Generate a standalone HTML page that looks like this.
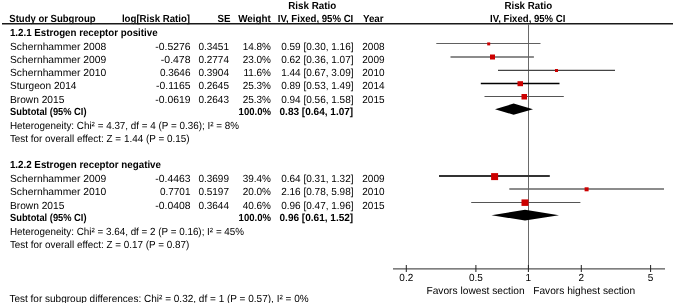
<!DOCTYPE html>
<html><head><meta charset="utf-8"><style>
html,body{margin:0;padding:0;background:#fff;width:675px;height:303px;overflow:hidden}
svg{display:block;font-family:"Liberation Sans",sans-serif;fill:#000;text-rendering:geometricPrecision;will-change:transform}
</style></head><body>
<svg width="675" height="303" viewBox="0 0 675 303">
<text x="288.30" y="9" font-size="10.3" font-weight="bold" textLength="47.90" lengthAdjust="spacingAndGlyphs">Risk Ratio</text>
<text x="504.40" y="9" font-size="10.3" font-weight="bold" textLength="47.70" lengthAdjust="spacingAndGlyphs">Risk Ratio</text>
<text x="9.30" y="22" font-size="10.3" font-weight="bold" textLength="86.30" lengthAdjust="spacingAndGlyphs">Study or Subgroup</text>
<text x="121.90" y="22" font-size="10.3" font-weight="bold" textLength="68.20" lengthAdjust="spacingAndGlyphs">log[Risk Ratio]</text>
<text x="217.40" y="22" font-size="10.3" font-weight="bold" textLength="13.00" lengthAdjust="spacingAndGlyphs">SE</text>
<text x="238.20" y="22" font-size="10.3" font-weight="bold" textLength="32.70" lengthAdjust="spacingAndGlyphs">Weight</text>
<text x="277.80" y="22" font-size="10.3" font-weight="bold" textLength="75.50" lengthAdjust="spacingAndGlyphs">IV, Fixed, 95% CI</text>
<text x="362.90" y="22" font-size="10.3" font-weight="bold" textLength="20.70" lengthAdjust="spacingAndGlyphs">Year</text>
<text x="490.10" y="22" font-size="10.3" font-weight="bold" textLength="75.30" lengthAdjust="spacingAndGlyphs">IV, Fixed, 95% CI</text>
<line x1="2" y1="23.8" x2="673" y2="23.8" stroke="#1a1a1a" stroke-width="1.5"/>
<text x="9.90" y="36" font-size="10.3" font-weight="bold" textLength="147.70" lengthAdjust="spacingAndGlyphs">1.2.1 Estrogen receptor positive</text>
<text x="10.00" y="50" font-size="10.3" textLength="96.20" lengthAdjust="spacingAndGlyphs">Schernhammer 2008</text>
<text x="155.28" y="50" font-size="10.3" textLength="35.22" lengthAdjust="spacingAndGlyphs">-0.5276</text>
<text x="198.41" y="50" font-size="10.3" textLength="30.59" lengthAdjust="spacingAndGlyphs">0.3451</text>
<text x="242.65" y="50" font-size="10.3" textLength="28.35" lengthAdjust="spacingAndGlyphs">14.8%</text>
<text x="281.22" y="50" font-size="10.3" textLength="72.28" lengthAdjust="spacingAndGlyphs">0.59 [0.30, 1.16]</text>
<text x="362.30" y="50" font-size="10.3" textLength="22.25" lengthAdjust="spacingAndGlyphs">2008</text>
<text x="10.00" y="63" font-size="10.3" textLength="96.20" lengthAdjust="spacingAndGlyphs">Schernhammer 2009</text>
<text x="160.85" y="63" font-size="10.3" textLength="29.65" lengthAdjust="spacingAndGlyphs">-0.478</text>
<text x="198.41" y="63" font-size="10.3" textLength="30.59" lengthAdjust="spacingAndGlyphs">0.2774</text>
<text x="242.65" y="63" font-size="10.3" textLength="28.35" lengthAdjust="spacingAndGlyphs">23.0%</text>
<text x="281.22" y="63" font-size="10.3" textLength="72.28" lengthAdjust="spacingAndGlyphs">0.62 [0.36, 1.07]</text>
<text x="362.30" y="63" font-size="10.3" textLength="22.25" lengthAdjust="spacingAndGlyphs">2009</text>
<text x="10.00" y="76.3" font-size="10.3" textLength="96.20" lengthAdjust="spacingAndGlyphs">Schernhammer 2010</text>
<text x="159.91" y="76.3" font-size="10.3" textLength="30.59" lengthAdjust="spacingAndGlyphs">0.3646</text>
<text x="198.41" y="76.3" font-size="10.3" textLength="30.59" lengthAdjust="spacingAndGlyphs">0.3904</text>
<text x="243.39" y="76.3" font-size="10.3" textLength="27.61" lengthAdjust="spacingAndGlyphs">11.6%</text>
<text x="281.22" y="76.3" font-size="10.3" textLength="72.28" lengthAdjust="spacingAndGlyphs">1.44 [0.67, 3.09]</text>
<text x="362.30" y="76.3" font-size="10.3" textLength="22.25" lengthAdjust="spacingAndGlyphs">2010</text>
<text x="10.00" y="89.2" font-size="10.3" textLength="66.40" lengthAdjust="spacingAndGlyphs">Sturgeon 2014</text>
<text x="156.03" y="89.2" font-size="10.3" textLength="34.47" lengthAdjust="spacingAndGlyphs">-0.1165</text>
<text x="198.41" y="89.2" font-size="10.3" textLength="30.59" lengthAdjust="spacingAndGlyphs">0.2645</text>
<text x="242.65" y="89.2" font-size="10.3" textLength="28.35" lengthAdjust="spacingAndGlyphs">25.3%</text>
<text x="281.22" y="89.2" font-size="10.3" textLength="72.28" lengthAdjust="spacingAndGlyphs">0.89 [0.53, 1.49]</text>
<text x="362.30" y="89.2" font-size="10.3" textLength="22.25" lengthAdjust="spacingAndGlyphs">2014</text>
<text x="10.00" y="102.6" font-size="10.3" textLength="54.30" lengthAdjust="spacingAndGlyphs">Brown 2015</text>
<text x="155.28" y="102.6" font-size="10.3" textLength="35.22" lengthAdjust="spacingAndGlyphs">-0.0619</text>
<text x="198.41" y="102.6" font-size="10.3" textLength="30.59" lengthAdjust="spacingAndGlyphs">0.2643</text>
<text x="242.65" y="102.6" font-size="10.3" textLength="28.35" lengthAdjust="spacingAndGlyphs">25.3%</text>
<text x="281.22" y="102.6" font-size="10.3" textLength="72.28" lengthAdjust="spacingAndGlyphs">0.94 [0.56, 1.58]</text>
<text x="362.30" y="102.6" font-size="10.3" textLength="22.25" lengthAdjust="spacingAndGlyphs">2015</text>
<text x="10.00" y="115.1" font-size="10.3" font-weight="bold" textLength="76.50" lengthAdjust="spacingAndGlyphs">Subtotal (95% CI)</text>
<text x="238.60" y="115.1" font-size="10.3" font-weight="bold" textLength="32.40" lengthAdjust="spacingAndGlyphs">100.0%</text>
<text x="279.50" y="115.1" font-size="10.3" font-weight="bold" textLength="73.70" lengthAdjust="spacingAndGlyphs">0.83 [0.64, 1.07]</text>
<text x="9.90" y="128.6" font-size="10.3" textLength="229.10" lengthAdjust="spacingAndGlyphs">Heterogeneity: Chi² = 4.37, df = 4 (P = 0.36); I² = 8%</text>
<text x="9.90" y="142" font-size="10.3" textLength="179.60" lengthAdjust="spacingAndGlyphs">Test for overall effect: Z = 1.44 (P = 0.15)</text>
<text x="9.90" y="168" font-size="10.3" font-weight="bold" textLength="151.10" lengthAdjust="spacingAndGlyphs">1.2.2 Estrogen receptor negative</text>
<text x="10.00" y="182" font-size="10.3" textLength="96.20" lengthAdjust="spacingAndGlyphs">Schernhammer 2009</text>
<text x="155.28" y="182" font-size="10.3" textLength="35.22" lengthAdjust="spacingAndGlyphs">-0.4463</text>
<text x="198.41" y="182" font-size="10.3" textLength="30.59" lengthAdjust="spacingAndGlyphs">0.3699</text>
<text x="242.65" y="182" font-size="10.3" textLength="28.35" lengthAdjust="spacingAndGlyphs">39.4%</text>
<text x="281.22" y="182" font-size="10.3" textLength="72.28" lengthAdjust="spacingAndGlyphs">0.64 [0.31, 1.32]</text>
<text x="362.30" y="182" font-size="10.3" textLength="22.25" lengthAdjust="spacingAndGlyphs">2009</text>
<text x="10.00" y="195.3" font-size="10.3" textLength="96.20" lengthAdjust="spacingAndGlyphs">Schernhammer 2010</text>
<text x="159.91" y="195.3" font-size="10.3" textLength="30.59" lengthAdjust="spacingAndGlyphs">0.7701</text>
<text x="198.41" y="195.3" font-size="10.3" textLength="30.59" lengthAdjust="spacingAndGlyphs">0.5197</text>
<text x="242.65" y="195.3" font-size="10.3" textLength="28.35" lengthAdjust="spacingAndGlyphs">20.0%</text>
<text x="281.22" y="195.3" font-size="10.3" textLength="72.28" lengthAdjust="spacingAndGlyphs">2.16 [0.78, 5.98]</text>
<text x="362.30" y="195.3" font-size="10.3" textLength="22.25" lengthAdjust="spacingAndGlyphs">2010</text>
<text x="10.00" y="208.6" font-size="10.3" textLength="54.30" lengthAdjust="spacingAndGlyphs">Brown 2015</text>
<text x="155.28" y="208.6" font-size="10.3" textLength="35.22" lengthAdjust="spacingAndGlyphs">-0.0408</text>
<text x="198.41" y="208.6" font-size="10.3" textLength="30.59" lengthAdjust="spacingAndGlyphs">0.3644</text>
<text x="242.65" y="208.6" font-size="10.3" textLength="28.35" lengthAdjust="spacingAndGlyphs">40.6%</text>
<text x="281.22" y="208.6" font-size="10.3" textLength="72.28" lengthAdjust="spacingAndGlyphs">0.96 [0.47, 1.96]</text>
<text x="362.30" y="208.6" font-size="10.3" textLength="22.25" lengthAdjust="spacingAndGlyphs">2015</text>
<text x="10.00" y="221" font-size="10.3" font-weight="bold" textLength="76.50" lengthAdjust="spacingAndGlyphs">Subtotal (95% CI)</text>
<text x="238.60" y="221" font-size="10.3" font-weight="bold" textLength="32.40" lengthAdjust="spacingAndGlyphs">100.0%</text>
<text x="279.50" y="221" font-size="10.3" font-weight="bold" textLength="73.70" lengthAdjust="spacingAndGlyphs">0.96 [0.61, 1.52]</text>
<text x="9.90" y="234.7" font-size="10.3" textLength="234.20" lengthAdjust="spacingAndGlyphs">Heterogeneity: Chi² = 3.64, df = 2 (P = 0.16); I² = 45%</text>
<text x="9.90" y="248" font-size="10.3" textLength="179.30" lengthAdjust="spacingAndGlyphs">Test for overall effect: Z = 0.17 (P = 0.87)</text>
<text x="9.40" y="301.5" font-size="10.3" textLength="299.30" lengthAdjust="spacingAndGlyphs">Test for subgroup differences: Chi² = 0.32, df = 1 (P = 0.57), I² = 0%</text>
<line x1="528.5" y1="24" x2="528.5" y2="269" stroke="#6a6a6a" stroke-width="1"/>
<line x1="436.3" y1="43.5" x2="540.5" y2="43.5" stroke="#606060" stroke-width="1"/>
<line x1="450.5" y1="57" x2="533.9" y2="57" stroke="#666" stroke-width="1.4"/>
<line x1="498" y1="70.4" x2="615" y2="70.4" stroke="#444" stroke-width="1.2"/>
<line x1="480.8" y1="83.5" x2="559.5" y2="83.5" stroke="#000" stroke-width="1.5"/>
<line x1="484.5" y1="96.5" x2="563.8" y2="96.5" stroke="#555" stroke-width="1.1"/>
<line x1="439" y1="176" x2="549.8" y2="176" stroke="#333" stroke-width="2"/>
<line x1="509.3" y1="189" x2="664" y2="189" stroke="#666" stroke-width="1.4"/>
<line x1="471.2" y1="202.5" x2="580.4" y2="202.5" stroke="#555" stroke-width="1.1"/>
<rect x="487.2" y="42.4" width="3" height="3" fill="#cc0000"/>
<rect x="490" y="54.5" width="5" height="5" fill="#cc0000"/>
<rect x="555" y="69" width="3" height="3" fill="#cc0000"/>
<rect x="517.5" y="81.2" width="5.5" height="5" fill="#cc0000"/>
<rect x="521.5" y="94" width="5.5" height="5.5" fill="#cc0000"/>
<rect x="491.1" y="173.1" width="7" height="7" fill="#cc0000"/>
<rect x="584.6" y="187.3" width="4" height="4" fill="#cc0000"/>
<rect x="521.5" y="199.4" width="7" height="6.5" fill="#cc0000"/>
<polygon points="495,109.2 513.6,103.60000000000001 533,109.2 513.6,114.8" fill="#000"/>
<polygon points="491.5,215.2 525,209.79999999999998 559,215.2 525,220.6" fill="#000"/>
<line x1="393" y1="268.8" x2="665" y2="268.8" stroke="#555" stroke-width="1.2"/>
<line x1="406.3" y1="265" x2="406.3" y2="272" stroke="#222" stroke-width="1"/>
<text x="399.35" y="281" font-size="10.3" textLength="13.90" lengthAdjust="spacingAndGlyphs">0.2</text>
<line x1="475.9" y1="265" x2="475.9" y2="272" stroke="#222" stroke-width="1"/>
<text x="468.95" y="281" font-size="10.3" textLength="13.90" lengthAdjust="spacingAndGlyphs">0.5</text>
<line x1="528.4" y1="265" x2="528.4" y2="272" stroke="#222" stroke-width="1"/>
<text x="525.62" y="281" font-size="10.3" textLength="5.56" lengthAdjust="spacingAndGlyphs">1</text>
<line x1="581.3" y1="265" x2="581.3" y2="272" stroke="#222" stroke-width="1"/>
<text x="578.52" y="281" font-size="10.3" textLength="5.56" lengthAdjust="spacingAndGlyphs">2</text>
<line x1="650.6" y1="265" x2="650.6" y2="272" stroke="#222" stroke-width="1"/>
<text x="647.82" y="281" font-size="10.3" textLength="5.56" lengthAdjust="spacingAndGlyphs">5</text>
<text x="426.40" y="293.6" font-size="10.3" textLength="98.20" lengthAdjust="spacingAndGlyphs">Favors lowest section</text>
<text x="533.20" y="293.6" font-size="10.3" textLength="102.00" lengthAdjust="spacingAndGlyphs">Favors highest section</text>
</svg>
</body></html>
